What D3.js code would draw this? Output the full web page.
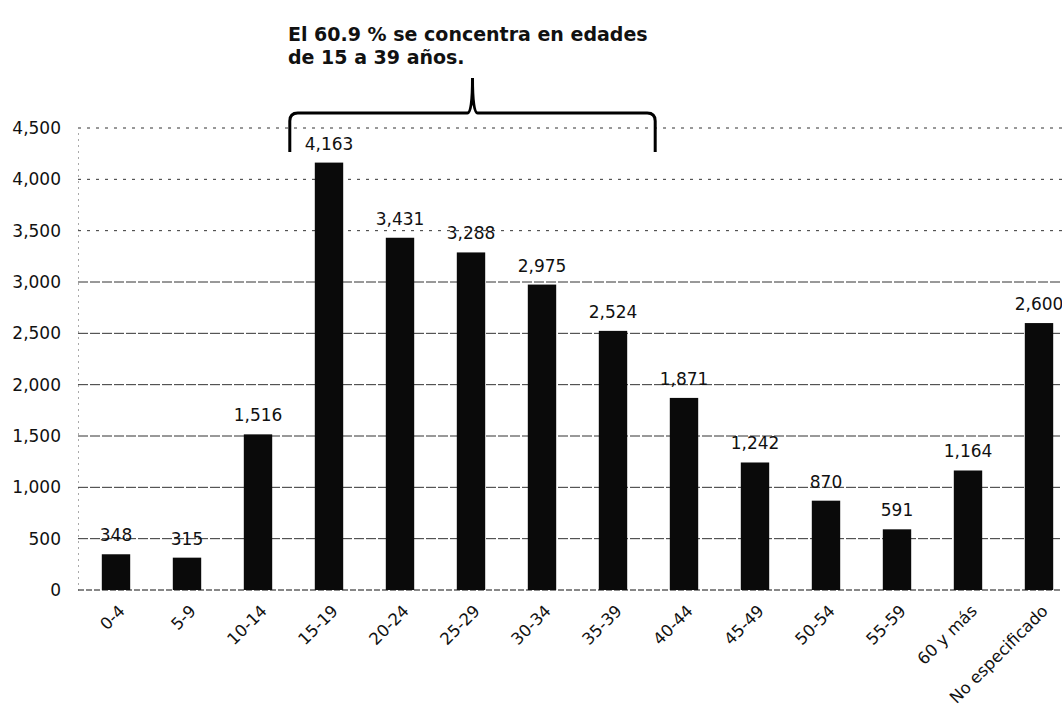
<!DOCTYPE html>
<html>
<head>
<meta charset="utf-8">
<script src="https://cdn.jsdelivr.net/npm/d3@7"></script>
<style>
  body { margin: 0; background: #fff; }
  svg text { font-family: "DejaVu Sans", sans-serif; fill: #111; }
  .tick text { font-size: 17px; }
  .x.axis .tick text { font-size: 16.5px; }
  .label { font-size: 17px; }
  .title { font-size: 19px; font-weight: bold; }
</style>
</head>
<body>
<svg width="1062" height="726"></svg>
<script>
// age groups and counts
var groups = ["0-4", "5-9", "10-14", "15-19", "20-24", "25-29", "30-34", "35-39",
    "40-44", "45-49", "50-54", "55-59", "60 y más", "No especificado"];
var counts = [348, 315, 1516, 4163, 3431, 3288, 2975, 2524, 1871, 1242, 870, 591, 1164, 2600];
var yTicks = [0, 500, 1000, 1500, 2000, 2500, 3000, 3500, 4000, 4500];
var titleLines = ["El 60.9 % se concentra en edades", "de 15 a 39 años."];
var braceFrom = "15-19", braceTo = "35-39";

var svg = d3.select("svg");

var xScale = d3.scaleBand()
    .domain(groups).range([80.5, 1074.5])
    .paddingInner(0.6).paddingOuter(0.3);

var yScale = d3.scaleLinear()
    .domain([0, 4500]).range([590, 128]);

// gridlines
svg.append("g").selectAll("line")
    .data(yTicks.slice(1))
    .enter()
    .append("line")
    .attr("x1", 78).attr("x2", 1062)
    .attr("y1", function(d) { return yScale(d); })
    .attr("y2", function(d) { return yScale(d); })
    .attr("stroke", "#333")
    .attr("stroke-width", 1)
    .attr("stroke-dasharray", function(d) { return d >= 3500 ? "3,6" : "10,2"; });

// baseline
svg.append("line")
    .attr("x1", 78).attr("x2", 1062)
    .attr("y1", yScale(0)).attr("y2", yScale(0))
    .attr("stroke", "#111").attr("stroke-dasharray", "6,2");

// y axis
var yAxis = svg.append("g").attr("class", "y axis")
    .attr("transform", "translate(78,0)")
    .call(d3.axisLeft(yScale).tickValues(yTicks).tickSize(0).tickPadding(17)
        .tickFormat(d3.format(",")));
yAxis.select(".domain").attr("stroke", "#555").attr("stroke-dasharray", "1,5");

// bars
svg.append("g").selectAll("rect")
    .data(counts)
    .enter()
    .append("rect")
    .attr("x", function(d, i) { return xScale(groups[i]); })
    .attr("y", function(d) { return yScale(d); })
    .attr("width", xScale.bandwidth())
    .attr("height", function(d) { return yScale(0) - yScale(d); })
    .attr("fill", "#0a0a0a");

// value labels
svg.append("g").selectAll("text")
    .data(counts)
    .enter()
    .append("text")
    .attr("class", "label")
    .attr("text-anchor", "middle")
    .attr("x", function(d, i) { return xScale(groups[i]) + xScale.bandwidth() / 2; })
    .attr("y", function(d) { return yScale(d) - 13; })
    .text(function(d) { return d3.format(",")(d); });

// x axis labels
var xAxis = svg.append("g").attr("class", "x axis")
    .attr("transform", "translate(0,590)")
    .call(d3.axisBottom(xScale).tickSize(0).tickPadding(0));
xAxis.select(".domain").remove();
xAxis.selectAll("text")
    .attr("text-anchor", "end")
    .attr("dy", 0)
    .attr("transform", "translate(10,22) rotate(-45)");

// brace
var bx1 = xScale(braceFrom) - 25;
var bx2 = xScale(braceTo) + xScale.bandwidth() + 28;
var bm = (bx1 + bx2) / 2;
var by = 113;
svg.append("path")
    .attr("d", "M" + bx1 + ",152 L" + bx1 + "," + (by + 8) + " Q" + bx1 + "," + by + " " + (bx1 + 8) + "," + by +
        " L" + (bm - 5) + "," + by + " Q" + bm + "," + by + " " + bm + ",78" +
        " Q" + bm + "," + by + " " + (bm + 5) + "," + by +
        " L" + (bx2 - 8) + "," + by + " Q" + bx2 + "," + by + " " + bx2 + "," + (by + 8) + " L" + bx2 + ",152")
    .attr("fill", "none")
    .attr("stroke", "#000")
    .attr("stroke-width", 3);

// annotation
svg.selectAll(".title")
    .data(titleLines)
    .enter()
    .append("text")
    .attr("class", "title")
    .attr("x", 288)
    .attr("y", function(d, i) { return 41 + i * 23; })
    .text(function(d) { return d; });
</script>
</body>
</html>
